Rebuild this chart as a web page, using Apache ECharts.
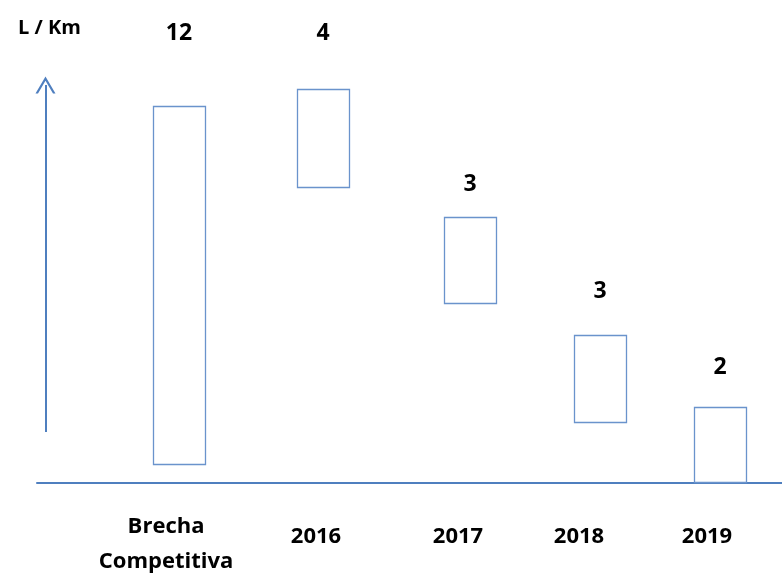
<!DOCTYPE html>
<html>
<head>
<meta charset="utf-8">
<script src="https://cdn.jsdelivr.net/npm/echarts@6/dist/echarts.min.js"></script>
<style>
  html, body { margin: 0; padding: 0; background: #fff; }
  #chart { width: 782px; height: 580px; }
</style>
</head>
<body>
<div id="chart"></div>
<script>
// datos
var categories = ['Brecha\nCompetitiva', '2016', '2017', '2018', '2019'];
var gaps = [12, 4, 3, 3, 2];            // etiquetas encima de cada caja
var boxLow = [0.63, 9.87, 6.0, 2.03, 0.03];
var boxHigh = [12.57, 13.13, 8.87, 4.93, 2.53];

// posiciones (no son datos)
var boxX = [1.906, 3.839, 5.812, 7.557, 9.168];
var textY = [15.0, 15.0, 9.95, 6.38, 3.85];
var catX = [1.732, 3.745, 5.651, 7.275, 8.993];
var catY = [-2.03, -1.8, -1.8, -1.8, -1.8];
var arrowX = 0.114, arrowFrom = 1.7, arrowTo = 13.27;
var boxW = 0.698;

var blue = '#4f7fbf';
var boxBlue = '#6a93cc';
var font = '"Open Sans", Lato, sans-serif';

var chart = echarts.init(document.getElementById('chart'));

var boxData = [];
for (var i = 0; i < gaps.length; i++) {
    boxData.push([boxX[i], boxLow[i], boxHigh[i], textY[i]]);
}
var catData = [];
for (var j = 0; j < categories.length; j++) {
    catData.push([catX[j], catY[j]]);
}

var option = {
    backgroundColor: '#fff',
    animation: false,
    title: {
        text: 'L / Km',
        left: 13,
        top: 13,
        textStyle: { fontFamily: font, fontWeight: 'bold', fontSize: 20, color: '#000' }
    },
    grid: { left: 37, right: 0, top: 3, bottom: 1 },
    xAxis: {
        type: 'value', min: 0, max: 10,
        axisLine: { show: true, onZero: true, lineStyle: { color: blue, width: 2 } },
        axisTick: { show: false },
        axisLabel: { show: false },
        splitLine: { show: false }
    },
    yAxis: {
        type: 'value', min: -3.2, max: 16,
        show: false,
        splitLine: { show: false }
    },
    series: [
        {
            type: 'custom',
            data: boxData,
            renderItem: function (params, api) {
                var x = api.value(0);
                var top = api.coord([x, api.value(2)]);
                var bot = api.coord([x, api.value(1)]);
                var w = api.size([boxW, 0])[0];
                var t = api.coord([x, api.value(3)]);
                return {
                    type: 'group',
                    children: [
                        {
                            type: 'rect',
                            shape: { x: Math.round(top[0] - w / 2) + 0.5, y: Math.round(top[1]) + 0.5, width: Math.round(w), height: Math.round(bot[1] - top[1]) },
                            style: { fill: '#fff', stroke: boxBlue, lineWidth: 1.3 }
                        },
                        {
                            type: 'text',
                            x: t[0], y: t[1],
                            style: {
                                text: String(gaps[params.dataIndex]),
                                fontFamily: font, fontWeight: 'bold', fontSize: 23,
                                fill: '#000', align: 'center', verticalAlign: 'middle'
                            }
                        }
                    ]
                };
            },
            markLine: {
                silent: true,
                symbol: ['none', 'path://M0,17 L10,0 L20,17 L17.5,17 L10,4.4 L2.5,17 Z'],
                symbolSize: [20, 17],
                label: { show: false },
                lineStyle: { color: blue, width: 2, type: 'solid' },
                data: [[{ coord: [arrowX, arrowFrom] }, { coord: [arrowX, arrowTo] }]]
            }
        },
        {
            type: 'scatter',
            data: catData,
            symbolSize: 0,
            silent: true,
            itemStyle: { opacity: 1 },
            label: {
                show: true,
                position: 'inside',
                formatter: function (p) { return categories[p.dataIndex]; },
                fontFamily: font, fontWeight: 'bold', fontSize: 22,
                lineHeight: 35, color: '#000', align: 'center'
            }
        }
    ]
};

chart.setOption(option);
</script>
</body>
</html>
